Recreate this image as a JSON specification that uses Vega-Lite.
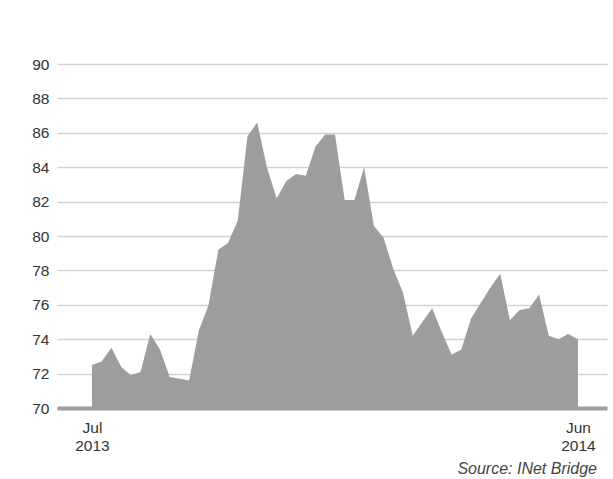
{
  "$schema": "https://vega.github.io/schema/vega-lite/v6.json",
  "width": 550,
  "height": 344,
  "autosize": "none",
  "padding": {"left": 57, "top": 64, "right": 6, "bottom": 71},
  "background": "white",
  "config": {
    "view": {"stroke": null},
    "font": "Liberation Sans"
  },
  "title": {
    "text": "Source: INet Bridge",
    "orient": "bottom",
    "anchor": "end",
    "fontStyle": "italic",
    "fontWeight": "normal",
    "fontSize": 16,
    "color": "#444444",
    "font": "Liberation Sans",
    "offset": 7,
    "dx": -10
  },
  "data": {
    "values": [
      {"date": "2013-07-01", "price": 72.5},
      {"date": "2013-07-08", "price": 72.7},
      {"date": "2013-07-15", "price": 73.5},
      {"date": "2013-07-22", "price": 72.4},
      {"date": "2013-07-29", "price": 71.9},
      {"date": "2013-08-05", "price": 72.1},
      {"date": "2013-08-12", "price": 74.3},
      {"date": "2013-08-19", "price": 73.4},
      {"date": "2013-08-26", "price": 71.8},
      {"date": "2013-09-02", "price": 71.7},
      {"date": "2013-09-09", "price": 71.6},
      {"date": "2013-09-16", "price": 74.5},
      {"date": "2013-09-23", "price": 76.0},
      {"date": "2013-09-30", "price": 79.2},
      {"date": "2013-10-07", "price": 79.6},
      {"date": "2013-10-14", "price": 80.9},
      {"date": "2013-10-21", "price": 85.8},
      {"date": "2013-10-28", "price": 86.6},
      {"date": "2013-11-04", "price": 84.0},
      {"date": "2013-11-11", "price": 82.2},
      {"date": "2013-11-18", "price": 83.2},
      {"date": "2013-11-25", "price": 83.6},
      {"date": "2013-12-02", "price": 83.5},
      {"date": "2013-12-09", "price": 85.2},
      {"date": "2013-12-16", "price": 85.9},
      {"date": "2013-12-23", "price": 85.9},
      {"date": "2013-12-30", "price": 82.1},
      {"date": "2014-01-06", "price": 82.1},
      {"date": "2014-01-13", "price": 84.0},
      {"date": "2014-01-20", "price": 80.6},
      {"date": "2014-01-27", "price": 79.9},
      {"date": "2014-02-03", "price": 78.1},
      {"date": "2014-02-10", "price": 76.7},
      {"date": "2014-02-17", "price": 74.2},
      {"date": "2014-02-24", "price": 75.0},
      {"date": "2014-03-03", "price": 75.8},
      {"date": "2014-03-10", "price": 74.4},
      {"date": "2014-03-17", "price": 73.1},
      {"date": "2014-03-24", "price": 73.4},
      {"date": "2014-03-31", "price": 75.2},
      {"date": "2014-04-07", "price": 76.1},
      {"date": "2014-04-14", "price": 77.0},
      {"date": "2014-04-21", "price": 77.8},
      {"date": "2014-04-28", "price": 75.1},
      {"date": "2014-05-05", "price": 75.7},
      {"date": "2014-05-12", "price": 75.8},
      {"date": "2014-05-19", "price": 76.6},
      {"date": "2014-05-26", "price": 74.2},
      {"date": "2014-06-02", "price": 74.0},
      {"date": "2014-06-09", "price": 74.3},
      {"date": "2014-06-16", "price": 74.0}
    ]
  },
  "mark": {"type": "area", "color": "#9d9d9d", "interpolate": "linear", "clip": true},
  "encoding": {
    "x": {
      "field": "date",
      "type": "temporal",
      "scale": {
        "type": "utc",
        "domain": [
          {"year": 2013, "month": 6, "date": 5, "hours": 20, "utc": true},
          {"year": 2014, "month": 7, "date": 6, "hours": 22, "utc": true}
        ]
      },
      "axis": {
        "title": null,
        "values": [
          {"year": 2013, "month": 7, "date": 1, "utc": true},
          {"year": 2014, "month": 6, "date": 16, "utc": true}
        ],
        "labelExpr": "[utcFormat(datum.value, '%b'), utcFormat(datum.value, '%Y')]",
        "labelLineHeight": 18,
        "labelFontSize": 15.5,
        "labelColor": "#333333",
        "labelFont": "Liberation Sans",
        "labelPadding": 12,
        "ticks": false,
        "grid": false,
        "domainColor": "#9d9d9d",
        "domainWidth": 4
      }
    },
    "y": {
      "field": "price",
      "type": "quantitative",
      "scale": {"domain": [70, 90], "zero": false, "nice": false},
      "axis": {
        "title": null,
        "values": [70, 72, 74, 76, 78, 80, 82, 84, 86, 88, 90],
        "labelFontSize": 15.5,
        "labelColor": "#333333",
        "labelFont": "Liberation Sans",
        "labelPadding": 8,
        "ticks": false,
        "domain": false,
        "grid": true,
        "gridColor": "#d2d2d2",
        "gridWidth": 1.5
      }
    },
    "y2": {"datum": 70}
  }
}
